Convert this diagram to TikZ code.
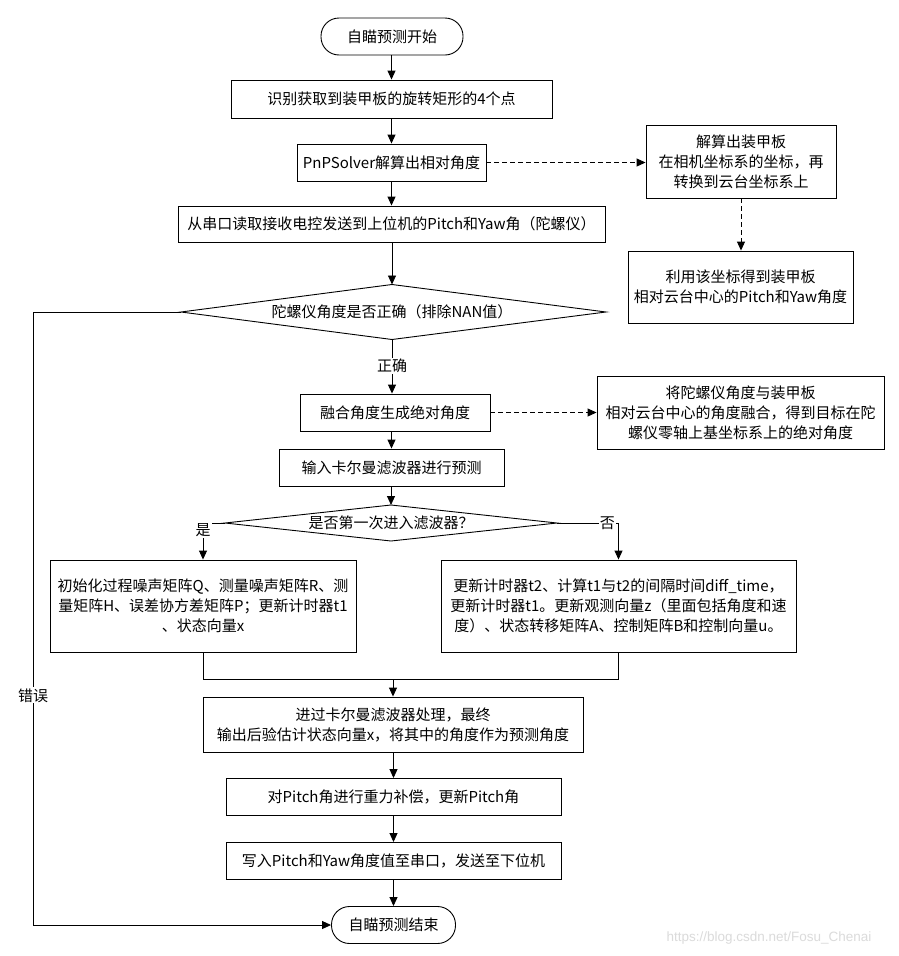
\documentclass[tikz,border=0pt]{standalone}
\usepackage{fontspec}
\setmainfont{Noto Sans CJK SC}
\newfontfamily\wmfont{Liberation Sans}
\usetikzlibrary{arrows.meta}
\tikzset{
  base/.style={font=\fontsize{15}{20}\selectfont, inner sep=0pt, align=center, text=black},
  proc/.style={base, draw, line width=0.9pt},
  term/.style={proc, rounded corners=18pt},
  arr/.style={line width=0.9pt, -{Triangle[length=9pt,width=8pt]}},
  darr/.style={arr, dash pattern=on 5pt off 3pt},
  lbl/.style={base, fill=white, inner sep=1pt},
  edge line/.style={line width=0.9pt},
}
\begin{document}
\begin{tikzpicture}[x=1pt,y=-1pt]
\fill[white] (0,0) rectangle (899,956);
\useasboundingbox (0,0) rectangle (899,956);

% main column
\node[term, minimum width=142pt, minimum height=37pt] (start) at (392,36.5) {自瞄预测开始};
\node[proc, minimum width=321pt, minimum height=38pt] (b1) at (391.5,99) {识别获取到装甲板的旋转矩形的4个点};
\node[proc, minimum width=189pt, minimum height=37pt] (b2) at (391.5,162.5) {PnPSolver解算出相对角度};
\node[proc, minimum width=427pt, minimum height=36pt] (b3) at (391.5,224) {从串口读取接收电控发送到上位机的Pitch和Yaw角（陀螺仪）};

% right side boxes
\node[proc, minimum width=190pt, minimum height=73pt] (rA) at (741,161.5) {解算出装甲板\\在相机坐标系的坐标，再\\转换到云台坐标系上};
\node[proc, minimum width=225pt, minimum height=72pt] (rB) at (740.5,287) {利用该坐标得到装甲板\\相对云台中心的Pitch和Yaw角度};

% diamond 1
\node[base] (d1) at (392,312) {陀螺仪角度是否正确（排除NAN值）};
\coordinate (d1w) at (181,312);
\coordinate (d1e) at (606,312);
\coordinate (d1n) at (392,284.5);
\coordinate (d1s) at (392,339.5);
\draw[edge line] (d1w) -- (d1n) -- (d1e) -- (d1s) -- cycle;

\node[proc, minimum width=190pt, minimum height=37pt] (b4) at (395,412.5) {融合角度生成绝对角度};
\node[proc, minimum width=287pt, minimum height=73pt] (rC) at (740.5,412.5) {将陀螺仪角度与装甲板\\相对云台中心的角度融合，得到目标在陀\\螺仪零轴上基坐标系上的绝对角度};
\node[proc, minimum width=225pt, minimum height=37pt] (b5) at (391.5,467.5) {输入卡尔曼滤波器进行预测};

% diamond 2
\node[base] (d2) at (391,523) {是否第一次进入滤波器？};
\coordinate (d2w) at (225,523);
\coordinate (d2e) at (557,523);
\coordinate (d2n) at (391,505);
\coordinate (d2s) at (391,541);
\draw[edge line] (d2w) -- (d2n) -- (d2e) -- (d2s) -- cycle;

\node[proc, minimum width=306pt, minimum height=92pt] (L) at (203,606) {初始化过程噪声矩阵Q、测量噪声矩阵R、测\\量矩阵H、误差协方差矩阵P；更新计时器t1\\、状态向量x};
\node[proc, minimum width=355pt, minimum height=92pt] (R) at (618.5,606) {更新计时器t2、计算t1与t2的间隔时间diff\_time，\\更新计时器t1。更新观测向量z（里面包括角度和速\\度）、状态转移矩阵A、控制矩阵B和控制向量u。};

\coordinate (merge) at (393,679);
\node[proc, minimum width=380pt, minimum height=55pt] (b6) at (393,724.5) {进过卡尔曼滤波器处理，最终\\输出后验估计状态向量x，将其中的角度作为预测角度};
\node[proc, minimum width=335pt, minimum height=37pt] (b7) at (393.5,797) {对Pitch角进行重力补偿，更新Pitch角};
\node[proc, minimum width=335pt, minimum height=37pt] (b8) at (393.5,861) {写入Pitch和Yaw角度值至串口，发送至下位机};
\node[term, minimum width=124pt, minimum height=37pt] (end) at (393.5,925) {自瞄预测结束};

\coordinate (lft) at (33,312);

% connectors
\draw[arr] (start.south -| b1.north) -- (b1.north);
\draw[arr] (b1.south) -- (b2.north);
\draw[arr] (b2.south) -- (b3.north);
\draw[arr] (b3.south -| d1n) -- (d1n);
\draw[darr] (b2.east) -- (b2.east -| rA.west);
\draw[darr] (rA.south) -- (rA.south |- rB.north);
\draw[arr] (d1s) -- node[lbl, pos=0.49] (ok) {正确} (d1s |- b4.north);
\draw[darr] (b4.east) -- (b4.east -| rC.west);
\draw[arr] (b5.north |- b4.south) -- (b5.north);
\draw[arr] (b5.south -| d2n) -- (d2n);
\draw[arr] (d2w) -| node[lbl, pos=0.6] (yes) {是} (L.north);
\draw[arr] (d2e) -| node[lbl, pos=0.41] (no) {否} (R.north);
\draw[edge line] (L.south) |- (merge);
\draw[edge line] (R.south) |- (merge);
\draw[arr] (merge) -- (merge |- b6.north);
\draw[arr] (b6.south -| b7.north) -- (b7.north);
\draw[arr] (b7.south) -- (b8.north);
\draw[arr] (b8.south) -- (end.north);
\draw[arr] (d1w) -- (lft) |- node[lbl, pos=0.3127] (err) {错误} (end.west);

% watermark
\node[font=\wmfont\fontsize{13.5}{15}\selectfont, text=black!14, inner sep=0pt] (wm) at (769,938) {https://blog.csdn.net/Fosu\_Chenai};
\end{tikzpicture}
\end{document}
